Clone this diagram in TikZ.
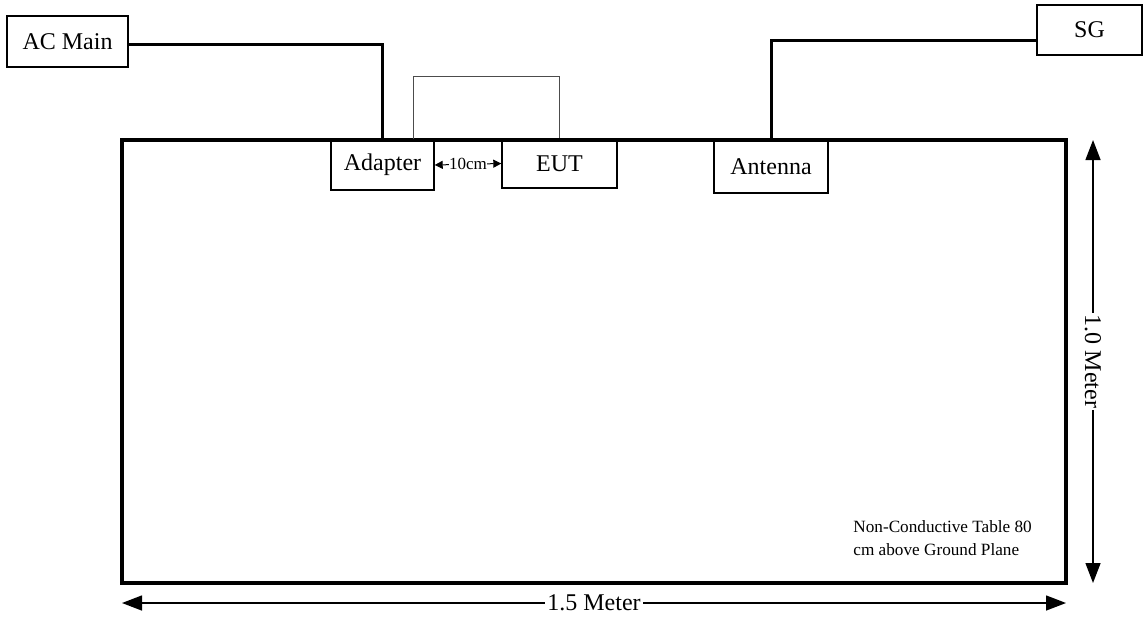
\documentclass[tikz,border=0pt]{standalone}
\usepackage{fontspec}
\setmainfont{Liberation Serif}
\usetikzlibrary{arrows.meta}
\tikzset{>={Triangle[length=10pt,width=7.5pt]}}
\tikzset{
  unit/.style={draw, line width=0.7pt, inner sep=0pt, font=\fontsize{12}{14}\selectfont},
  wire/.style={line width=1.5pt},
  dim/.style={<->, line width=0.7pt},
  dimlabel/.style={fill=white, inner sep=1pt, font=\fontsize{12}{14}\selectfont},
}

\begin{document}
\begin{tikzpicture}[x=0.5pt, y=-0.5pt]
  \useasboundingbox (0,0) rectangle (1143,621);
  \node[unit, minimum width=60.5pt, minimum height=25.5pt] (acmain) at (67.5,41.5) {AC Main};
  \node[unit, minimum width=51.5pt, minimum height=25pt] (adapter) at (382.5,165) {Adapter};
  \node[unit, minimum width=57.5pt, minimum height=24.5pt] (eut) at (559.5,163.5) {EUT};
  \node[unit, minimum width=57pt, minimum height=26.5pt] (antenna) at (771,166.5) {Antenna};
  \node[unit, minimum width=52.5pt, minimum height=25pt] (sg) at (1089.5,30) {SG};
  \node[draw, line width=1.7pt, outer sep=0pt, inner sep=0pt, minimum width=472pt, minimum height=221.5pt] (table) at (594,361.5) {};
  \node[anchor=west, align=left, inner sep=0pt, font=\fontsize{8.6}{11.5}\selectfont] (note) at (853,538) {Non-Conductive Table 80\\cm above Ground Plane};

  \draw[wire] ([yshift=-1.5pt]acmain.east) -| (adapter.north);
  \draw[wire] ([yshift=-5pt]sg.west) -| (antenna.north);
  \draw[line width=0.5pt, gray!60!black] ([xshift=15.25pt]adapter.north) -- ++(0,-63) -| (eut.north);
  \draw[<->, >={Triangle[length=4pt,width=4pt]}, line width=0.5pt] (adapter.east) -- node[fill=white, inner sep=0.3pt, font=\fontsize{8.5}{10}\selectfont] (gap) {10cm} (eut.west);

  \draw[dim] ([xshift=13.5pt]table.north east) -- node[dimlabel, rotate=-90] (height) {1.0 Meter} ([xshift=13.5pt]table.south east);
  \draw[dim] ([yshift=-10pt]table.south west) -- node[dimlabel] (width) {1.5 Meter} ([yshift=-10pt]table.south east);
\end{tikzpicture}
\end{document}
